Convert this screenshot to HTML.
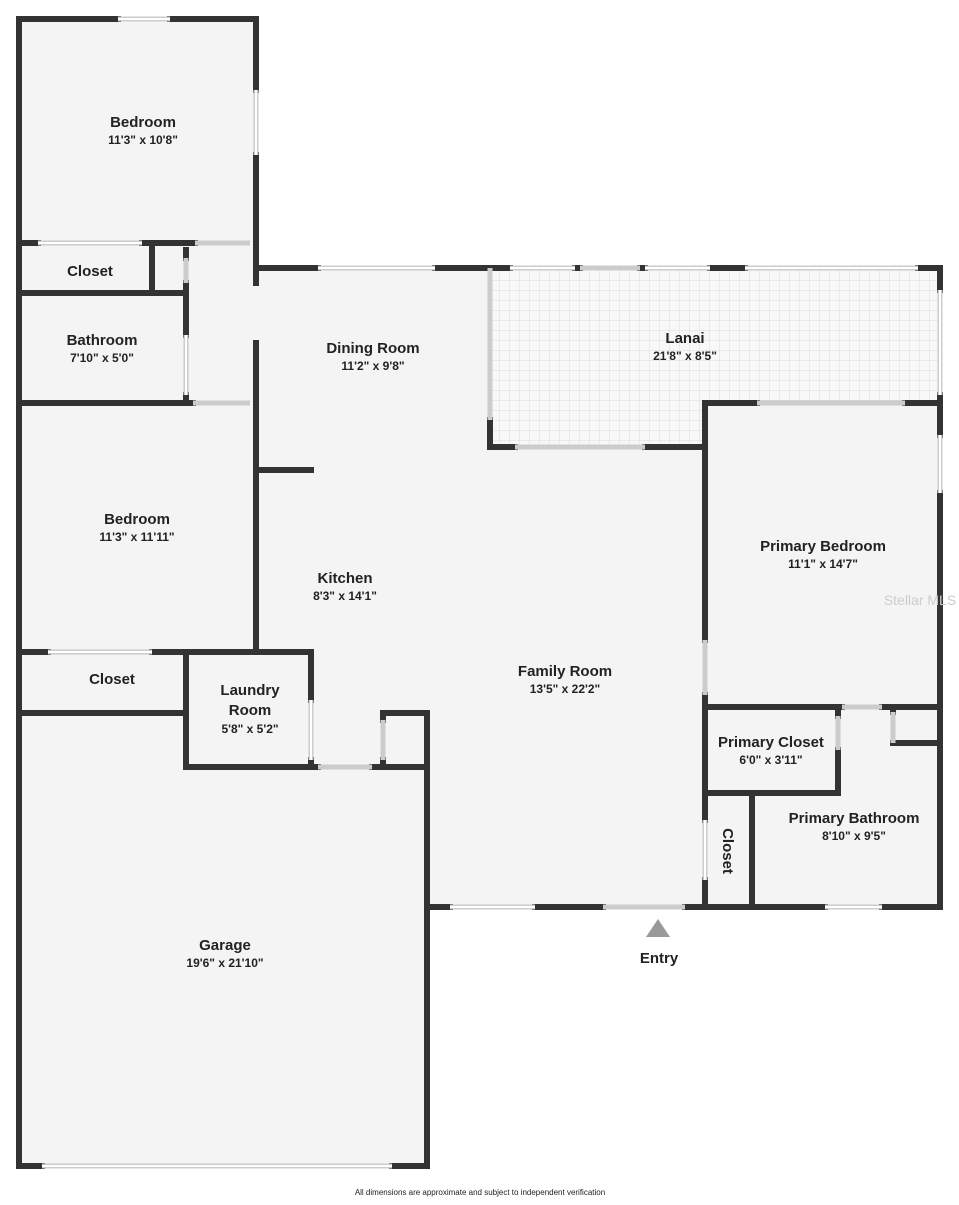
<!DOCTYPE html>
<html><head><style>
body{margin:0;background:#fff}
svg text{font-family:"Liberation Sans",sans-serif;fill:#222;text-anchor:middle}
.n{font-weight:bold;font-size:15px}
.d{font-weight:bold;font-size:12px}
</style></head><body>
<svg width="959" height="1200" viewBox="0 0 959 1200">
<defs><pattern id="tile" width="10" height="10" patternUnits="userSpaceOnUse"><rect width="10" height="10" fill="#f8f8f8"/><path d="M0 0H10V10" fill="none" stroke="#dcdcdc" stroke-width="1"/></pattern></defs>
<g fill="#f4f4f4">
<rect x="19" y="19" width="237" height="640"/>
<rect x="19" y="650" width="408" height="516"/>
<rect x="256" y="268" width="449" height="639"/>
<rect x="705" y="403" width="235" height="504"/>
</g>
<path d="M490 268H940V403H705V447H490Z" fill="url(#tile)"/>
<g stroke="#333" stroke-width="6" fill="none" stroke-linecap="square">
<path d="M19 19V1166"/>
<path d="M19 19H118M170 19H256"/>
<path d="M256 19V90M256 155V283"/>
<path d="M19 243H38M142 243H195"/>
<path d="M152 243V293"/>
<path d="M186 250V258M186 283V335M186 395V403"/>
<path d="M19 293H186"/>
<path d="M19 403H193"/>
<path d="M256 343V652"/>
<path d="M256 470H311"/>
<path d="M19 652H48M152 652H186"/>
<path d="M19 713H186"/>
<path d="M186 652H311V700M311 760V767"/>
<path d="M186 652V767H318M372 767H427"/>
<path d="M427 713H383V720M383 760V767"/>
<path d="M427 713V1166"/>
<path d="M19 1166H42M392 1166H427"/>
<path d="M256 268H318M435 268H510M575 268H580M640 268H645M710 268H745M918 268H940"/>
<path d="M940 268V290M940 395V435M940 493V907"/>
<path d="M490 420V447H515M645 447H705"/>
<path d="M705 403H757M905 403H940"/>
<path d="M705 403V640M705 695V820M705 880V907"/>
<path d="M705 707H842M882 707H940"/>
<path d="M838 707V716M838 750V793H705"/>
<path d="M893 707V712M893 743H940"/>
<path d="M752 793V907"/>
<path d="M427 907H450M535 907H603M685 907H825M882 907H940"/>
</g>
<g stroke="#ccc" stroke-width="5" fill="none">
<path d="M118 19H170M256 90V155M38 243H142M195 243H250M186 258V283M186 335V395M193 403H250M48 652H152M311 700V760M318 767H372M383 720V760M42 1166H392M318 268H435M510 268H575M580 268H640M645 268H710M745 268H918M940 290V395M940 435V493M490 268V420M515 447H645M757 403H905M705 640V695M842 707H882M838 716V750M893 712V743M705 820V880M450 907H535M603 907H625M625 907H685M825 907H882"/>
</g>
<g stroke="#fff" stroke-width="2" fill="none">
<path d="M118 19H170M256 90V155M38 243H142M48 652H152M42 1166H392M318 268H435M510 268H575M645 268H710M745 268H918M940 290V395M940 435V493M186 335V395M311 700V760M450 907H535M825 907H882M705 820V880"/>
</g>
<polygon points="646,937 670,937 658,919" fill="#999"/>
<text class="n" x="143" y="127">Bedroom</text><text class="d" x="143" y="144">11'3" x 10'8"</text>
<text class="n" x="90" y="276">Closet</text>
<text class="n" x="102" y="345">Bathroom</text><text class="d" x="102" y="362">7'10" x 5'0"</text>
<text class="n" x="373" y="353">Dining Room</text><text class="d" x="373" y="370">11'2" x 9'8"</text>
<text class="n" x="685" y="343">Lanai</text><text class="d" x="685" y="360">21'8" x 8'5"</text>
<text class="n" x="137" y="524">Bedroom</text><text class="d" x="137" y="541">11'3" x 11'11"</text>
<text class="n" x="345" y="583">Kitchen</text><text class="d" x="345" y="600">8'3" x 14'1"</text>
<text class="n" x="823" y="551">Primary Bedroom</text><text class="d" x="823" y="568">11'1" x 14'7"</text>
<text class="n" x="565" y="676">Family Room</text><text class="d" x="565" y="693">13'5" x 22'2"</text>
<text class="n" x="112" y="684">Closet</text>
<text class="n" x="250" y="695">Laundry</text><text class="n" x="250" y="715">Room</text><text class="d" x="250" y="733">5'8" x 5'2"</text>
<text class="n" x="771" y="747">Primary Closet</text><text class="d" x="771" y="764">6'0" x 3'11"</text>
<text class="n" x="854" y="823">Primary Bathroom</text><text class="d" x="854" y="840">8'10" x 9'5"</text>
<text class="n" transform="translate(723,851) rotate(90)">Closet</text>
<text class="n" x="659" y="963">Entry</text>
<text class="n" x="225" y="950">Garage</text><text class="d" x="225" y="967">19'6" x 21'10"</text>
<text x="920" y="605" style="font-size:14px;fill:#ccc">Stellar MLS</text>
<text x="480" y="1195" style="font-size:8px">All dimensions are approximate and subject to independent verification</text>
</svg>
</body></html>
